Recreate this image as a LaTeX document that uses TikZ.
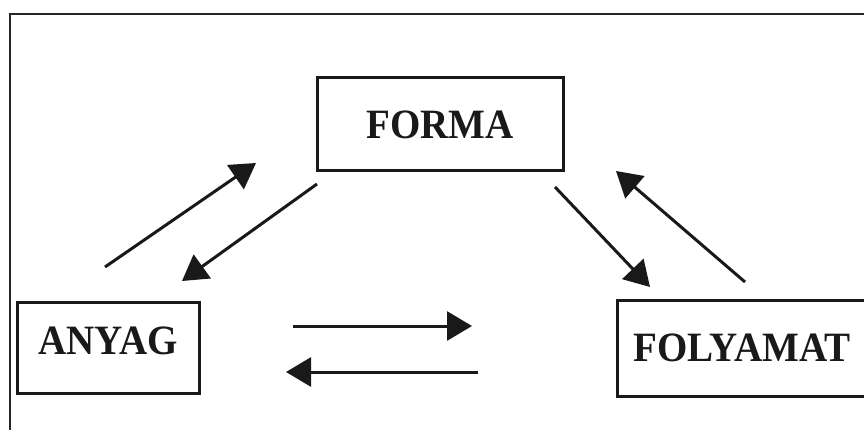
\documentclass[tikz,border=0pt]{standalone}
\usepackage{fontspec}
\setmainfont{Liberation Serif}
\usetikzlibrary{arrows.meta}
\newcommand\talltext[1]{\scalebox{1}[1.07]{#1}}
\begin{document}
\begin{tikzpicture}[x=1pt,y=-1pt,
  boxnode/.style={draw=black!90, line width=3pt, inner sep=0pt,
    font=\fontsize{39}{40}\selectfont\bfseries, text=black!90},
  arr/.style={line width=3pt, draw=black!90,
    -{Triangle[length=25pt,width=29pt]}, color=black!90}]
\useasboundingbox (0,0) rectangle (864,430);
\clip (0,0) rectangle (864,430);
\draw[line width=2pt, black!85] (10,14) rectangle (880,450);
\node[boxnode, minimum width=246pt, minimum height=93pt] (forma) at (440,124.5) {\talltext{FORMA}};
\node[boxnode, minimum width=182pt, minimum height=91pt, text depth=13pt] (anyag) at (108,347.5) {\talltext{ANYAG}};
\node[boxnode, minimum width=250pt, minimum height=96pt] (folyamat) at (742,348) {\talltext{FOLYAMAT}};
\coordinate (a1s) at (105,267); \coordinate (a1e) at (256,163);
\coordinate (a2s) at (317,184); \coordinate (a2e) at (182,281);
\coordinate (a3s) at (555,187); \coordinate (a3e) at (650,287);
\coordinate (a4s) at (745,282); \coordinate (a4e) at (616,171);
\coordinate (h1s) at (293,326); \coordinate (h1e) at (472,326);
\coordinate (h2s) at (478,372); \coordinate (h2e) at (286,372);
\draw[arr] (a1s) -- (a1e);
\draw[arr] (a2s) -- (a2e);
\draw[arr] (a3s) -- (a3e);
\draw[arr] (a4s) -- (a4e);
\draw[arr] (h1s) -- (h1e);
\draw[arr] (h2s) -- (h2e);
\end{tikzpicture}
\end{document}
